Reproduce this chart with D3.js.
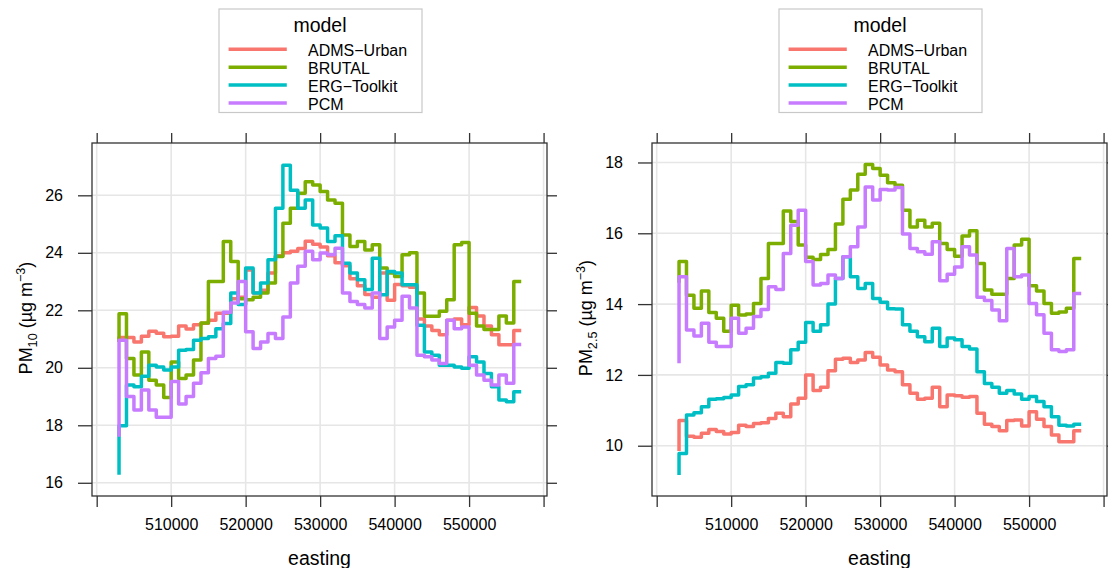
<!DOCTYPE html>
<html>
<head>
<meta charset="utf-8">
<script src="https://cdn.jsdelivr.net/npm/d3@7"></script>
<style>
  body { margin: 0; background: #fff; }
  svg text { font-family: "Liberation Sans", Arial, Helvetica, sans-serif; fill: #000; }
</style>
</head>
<body>
<svg id="chart" width="1108" height="568"></svg>
<script>
// categories
const models = ["ADMS\u2212Urban", "BRUTAL", "ERG\u2212Toolkit", "PCM"];
const modelColors = ["#F8766D", "#7CAE00", "#00BFC4", "#C77CFF"];
const easting = d3.range(503000, 558000, 1000);
const xTicks = [500000, 510000, 520000, 530000, 540000, 550000, 560000];
const xTickLabels = [510000, 520000, 530000, 540000, 550000];
const pm10Ticks = [16, 18, 20, 22, 24, 26];
const pm25Ticks = [10, 12, 14, 16, 18];

// PM10 by model
const pm10Adms = [20.9, 21.05, 21.05, 20.9, 21.1, 21.27, 21.2, 21.08, 21.1, 21.45,
  21.35, 21.5, 21.55, 21.65, 21.9, 21.9, 22.4, 22.45, 23.4, 22.6,
  22.7, 23.3, 23.9, 24.0, 24.05, 24.15, 24.4, 24.3, 24.2, 23.9,
  23.65, 23.55, 23.1, 22.85, 22.55, 22.45, 23.3, 22.35, 22.9, 22.85,
  22.8, 21.7, 21.45, 21.3, 21.15, 21.65, 21.7, 21.5, 22.1, 21.8,
  21.45, 21.15, 20.8, 20.8, 21.3];
const pm10Brutal = [20.9, 21.88, 20.32, 19.75, 20.55, 19.57, 19.4, 18.97, 20.2, 19.63,
  19.75, 20.27, 21.56, 23.0, 23.0, 24.39, 23.7, 22.4, 22.37, 22.45,
  22.6, 22.95, 23.87, 25.03, 25.55, 26.07, 26.47, 26.36, 26.13, 25.84,
  25.72, 24.62, 24.22, 24.39, 24.1, 24.28, 23.47, 23.3, 23.18, 23.93,
  24.0, 22.6, 21.79, 21.79, 21.97, 22.37, 24.28, 24.36, 21.9, 21.45,
  21.33, 21.33, 21.8, 21.56, 23.0];
const pm10Erg = [16.28, 17.98, 19.4, 19.34, 19.71, 20.09, 20.03, 19.92, 20.03, 20.61,
  20.64, 20.96, 21.02, 21.08, 21.36, 21.54, 22.6, 22.2, 23.47, 22.6,
  22.95, 23.76, 25.55, 27.05, 26.18, 25.55, 25.84, 24.97, 24.86, 24.39,
  24.59, 23.64, 23.3, 23.06, 22.72, 23.81, 22.54, 23.35, 23.3, 22.89,
  22.89, 21.48, 20.55, 20.44, 20.09, 20.09, 20.03, 19.98, 20.38, 20.2,
  19.8, 19.34, 18.88, 18.82, 19.17];
const pm10Pcm = [17.6, 20.96, 19.0, 18.53, 19.23, 18.53, 18.28, 18.28, 19.52, 18.74,
  19.0, 19.46, 19.83, 20.32, 20.4, 21.93, 22.25, 23.0, 21.25, 20.67,
  20.9, 21.19, 21.02, 21.77, 22.95, 23.53, 24.05, 23.76, 23.99, 23.93,
  24.16, 22.6, 22.31, 22.2, 22.08, 22.6, 21.02, 21.42, 21.65, 22.49,
  22.08, 20.44, 20.38, 20.27, 20.15, 21.65, 21.36, 21.42, 20.09, 19.75,
  19.57, 19.4, 19.75, 19.46, 20.81];

// PM2.5 by model
const pm25Adms = [9.85, 10.71, 10.27, 10.24, 10.35, 10.46, 10.4, 10.33, 10.37, 10.58,
  10.54, 10.63, 10.65, 10.77, 10.92, 10.82, 11.18, 11.34, 12.0, 11.56,
  11.65, 12.12, 12.44, 12.47, 12.35, 12.42, 12.63, 12.5, 12.28, 12.14,
  12.09, 11.72, 11.48, 11.31, 11.34, 11.65, 11.1, 11.43, 11.41, 11.37,
  11.39, 10.92, 10.61, 10.54, 10.42, 10.71, 10.73, 10.56, 10.96, 10.75,
  10.54, 10.3, 10.11, 10.11, 10.42];
const pm25Brutal = [14.6, 15.2, 14.25, 13.88, 14.37, 13.76, 13.6, 13.23, 13.97, 13.69,
  13.72, 14.02, 14.72, 15.71, 15.71, 16.63, 16.33, 15.67, 15.32, 15.26,
  15.4, 15.54, 16.26, 16.96, 17.22, 17.67, 17.94, 17.83, 17.64, 17.43,
  17.36, 16.65, 16.18, 16.37, 16.18, 16.28, 15.71, 15.54, 15.35, 15.92,
  16.07, 15.15, 14.4, 14.28, 14.28, 14.72, 15.67, 15.83, 14.52, 14.37,
  14.02, 13.74, 13.78, 13.88, 15.29];
const pm25Erg = [9.17, 9.78, 10.87, 10.93, 11.1, 11.31, 11.33, 11.36, 11.43, 11.67,
  11.72, 11.91, 11.95, 12.05, 12.35, 12.33, 12.71, 12.92, 13.48, 13.23,
  13.42, 14.0, 14.72, 15.34, 14.77, 14.44, 14.58, 14.16, 14.05, 13.87,
  13.86, 13.42, 13.23, 13.08, 12.94, 13.32, 12.8, 13.04, 12.99, 12.8,
  12.73, 12.09, 11.76, 11.65, 11.48, 11.56, 11.46, 11.31, 11.39, 11.25,
  11.1, 10.82, 10.58, 10.56, 10.61];
const pm25Pcm = [12.33, 14.77, 13.27, 13.1, 13.46, 12.92, 12.8, 12.8, 13.6, 13.18,
  13.32, 13.65, 13.85, 14.49, 14.41, 15.43, 16.23, 16.65, 15.2, 14.54,
  14.58, 14.82, 14.72, 15.34, 15.62, 16.18, 17.31, 16.94, 17.24, 17.22,
  17.29, 15.98, 15.57, 15.48, 15.41, 15.76, 14.66, 14.84, 15.05, 15.62,
  15.39, 14.19, 14.1, 13.83, 13.53, 15.57, 14.77, 14.82, 14.02, 13.7,
  13.18, 12.71, 12.66, 12.71, 14.3];

const svg = d3.select('#chart');
const panelW = 455;
const panelTop = 143;
const panelH = 353;
const gridColor = '#e6e6e6';
const axisColor = '#333';

const drawPanel = (left, yDomain, yTicks, series, sub)=>{
    const x = d3.scaleLinear()
        .domain([499370, 560460])
        .range([left, left + panelW]);
    const y = d3.scaleLinear()
        .domain(yDomain)
        .range([panelTop + panelH, panelTop]);
    const g = svg.append('g');

    // grid
    g.append('g')
        .selectAll('line')
        .data(xTicks)
        .enter()
        .append('line')
        .attr('x1', d=>x(d)).attr('x2', d=>x(d))
        .attr('y1', panelTop).attr('y2', panelTop + panelH)
        .style('stroke', gridColor)
        .style('stroke-width', 1.6);
    g.append('g')
        .selectAll('line')
        .data(yTicks)
        .enter()
        .append('line')
        .attr('x1', left).attr('x2', left + panelW)
        .attr('y1', d=>y(d)).attr('y2', d=>y(d))
        .style('stroke', gridColor)
        .style('stroke-width', 1.6);

    // step lines
    const line = d3.line()
        .x((d, i)=>x(easting[i]))
        .y(d=>y(d))
        .curve(d3.curveStepBefore);
    g.append('g')
        .selectAll('path')
        .data(series)
        .enter()
        .append('path')
        .attr('d', d=>line(d))
        .style('fill', 'none')
        .style('stroke', (d, i)=>modelColors[i])
        .style('stroke-width', 3.5)
        .style('stroke-linejoin', 'round');

    // axes, ticks on all four sides
    const fmt = d=>xTickLabels.includes(d) ? d : '';
    g.append('g')
        .attr('transform', `translate(0, ${panelTop + panelH})`)
        .call(d3.axisBottom(x).tickValues(xTicks).tickSize(11).tickPadding(12).tickFormat(fmt));
    g.append('g')
        .attr('transform', `translate(0, ${panelTop})`)
        .call(d3.axisTop(x).tickValues(xTicks).tickSize(10).tickFormat(''));
    g.append('g')
        .attr('transform', `translate(${left}, 0)`)
        .call(d3.axisLeft(y).tickValues(yTicks).tickSize(14).tickPadding(15));
    g.append('g')
        .attr('transform', `translate(${left + panelW}, 0)`)
        .call(d3.axisRight(y).tickValues(yTicks).tickSize(10).tickFormat(''));
    g.selectAll('.domain').remove();
    g.selectAll('.tick line').style('stroke', axisColor).style('stroke-width', 1.3);
    g.selectAll('.tick text').style('font-size', '16px').style('fill', '#000')
        .style('font-family', '"Liberation Sans", Arial, sans-serif');

    g.append('rect')
        .attr('x', left).attr('y', panelTop)
        .attr('width', panelW).attr('height', panelH)
        .style('fill', 'none')
        .style('stroke', axisColor)
        .style('stroke-width', 1.3);

    // axis titles
    g.append('text')
        .attr('x', left + panelW / 2)
        .attr('y', 565)
        .attr('text-anchor', 'middle')
        .style('font-size', '19.5px')
        .text('easting');
    const ylab = g.append('text')
        .attr('transform', `translate(${left - 60}, 318) rotate(-90)`)
        .attr('text-anchor', 'middle')
        .style('font-size', '18px');
    ylab.append('tspan').text('PM');
    ylab.append('tspan').attr('dy', 5).style('font-size', '12.6px').text(sub);
    ylab.append('tspan').attr('dy', -5).text(' (\u00b5g m');
    ylab.append('tspan').attr('dy', -7.5).style('font-size', '12.6px').text('\u22123');
    ylab.append('tspan').attr('dy', 7.5).text(')');

    // legend
    const lg = svg.append('g').attr('transform', `translate(${left + 127}, 9)`);
    lg.append('rect')
        .attr('width', 203).attr('height', 103.5)
        .style('fill', '#fff')
        .style('stroke', '#c8c8c8')
        .style('stroke-width', 1.2);
    lg.append('text')
        .attr('x', 101).attr('y', 23)
        .attr('text-anchor', 'middle')
        .style('font-size', '19.5px')
        .text('model');
    const item = lg.selectAll('.item')
        .data(models)
        .enter()
        .append('g')
        .attr('transform', (d, i)=>`translate(0, ${40.3 + i * 17.9})`);
    item.append('line')
        .attr('x1', 9.6).attr('x2', 67.8)
        .style('stroke', (d, i)=>modelColors[i])
        .style('stroke-width', 3.5);
    item.append('text')
        .attr('x', 89).attr('y', 6.5)
        .style('font-size', '16px')
        .text(d=>d);
}

drawPanel(92, [15.54, 27.82], pm10Ticks, [pm10Adms, pm10Brutal, pm10Erg, pm10Pcm], '10');
drawPanel(652, [8.58, 18.55], pm25Ticks, [pm25Adms, pm25Brutal, pm25Erg, pm25Pcm], '2.5');
</script>
</body>
</html>
